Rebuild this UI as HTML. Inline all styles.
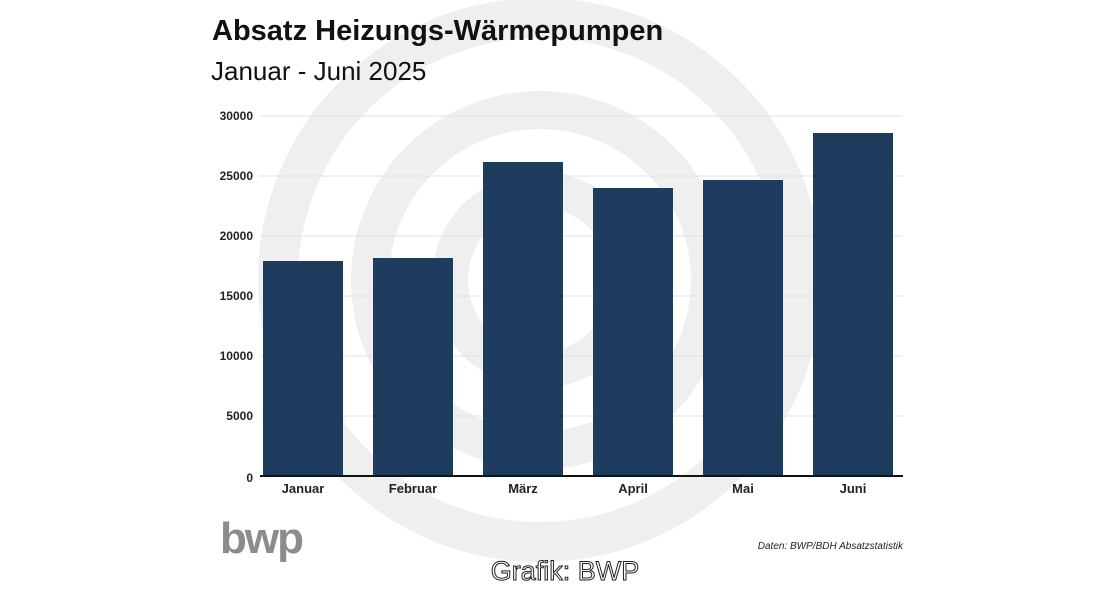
<!DOCTYPE html>
<html><head><meta charset="utf-8"><style>
html,body{margin:0;padding:0;background:#fff;}
body{width:1114px;height:600px;overflow:hidden;position:relative;font-family:"Open Sans","Liberation Sans",sans-serif;}
</style></head><body>
<svg width="1114" height="600" style="position:absolute;left:0;top:0">
<g fill="none">
<circle cx="540" cy="280" r="262" stroke="#efefef" stroke-width="40"/>
<circle cx="540" cy="280" r="170" stroke="#efefef" stroke-width="38"/>
<circle cx="540" cy="280" r="90" stroke="#efefef" stroke-width="36"/>
</g>
<g stroke="#e2e2e2" stroke-width="1">
<line x1="260" x2="903" y1="116" y2="116"/>
<line x1="260" x2="903" y1="176" y2="176"/>
<line x1="260" x2="903" y1="236" y2="236"/>
<line x1="260" x2="903" y1="296" y2="296"/>
<line x1="260" x2="903" y1="356" y2="356"/>
<line x1="260" x2="903" y1="416" y2="416"/>
</g>
<g fill="#1e3d5e">
<rect x="263" y="261" width="80" height="215"/>
<rect x="373" y="258" width="80" height="218"/>
<rect x="483" y="162" width="80" height="314"/>
<rect x="593" y="188" width="80" height="288"/>
<rect x="703" y="180" width="80" height="296"/>
<rect x="813" y="133" width="80" height="343"/>
</g>
<line x1="260" x2="903" y1="476" y2="476" stroke="#111" stroke-width="2"/>
<g font-family="Liberation Sans, sans-serif" font-weight="bold" font-size="12" fill="#222" text-anchor="end">
<text x="253" y="120">30000</text><text x="253" y="180">25000</text><text x="253" y="240">20000</text>
<text x="253" y="300">15000</text><text x="253" y="360">10000</text><text x="253" y="420">5000</text>
<text x="253" y="482">0</text>
</g>
<g font-family="Liberation Sans, sans-serif" font-weight="bold" font-size="13" fill="#222" text-anchor="middle">
<text x="303" y="493">Januar</text><text x="413" y="493">Februar</text><text x="523" y="493">März</text>
<text x="633" y="493">April</text><text x="743" y="493">Mai</text><text x="853" y="493">Juni</text>
</g>
<text x="212" y="40" font-family="Liberation Sans, sans-serif" font-weight="bold" font-size="29" fill="#111">Absatz Heizungs-Wärmepumpen</text>
<text x="211" y="80" font-family="Liberation Sans, sans-serif" font-size="26" fill="#111">Januar - Juni 2025</text>
<text x="220" y="553" font-family="Liberation Sans, sans-serif" font-weight="bold" font-size="44" fill="#8c8c8c" letter-spacing="-2">bwp</text>
<text x="903" y="549" text-anchor="end" font-family="Liberation Sans, sans-serif" font-style="italic" font-size="10" fill="#222">Daten: BWP/BDH Absatzstatistik</text>
<text x="565" y="580" text-anchor="middle" font-family="Liberation Sans, sans-serif" font-size="27" fill="#fff" stroke="#222" stroke-width="1">Grafik: BWP</text>
</svg>
</body></html>
